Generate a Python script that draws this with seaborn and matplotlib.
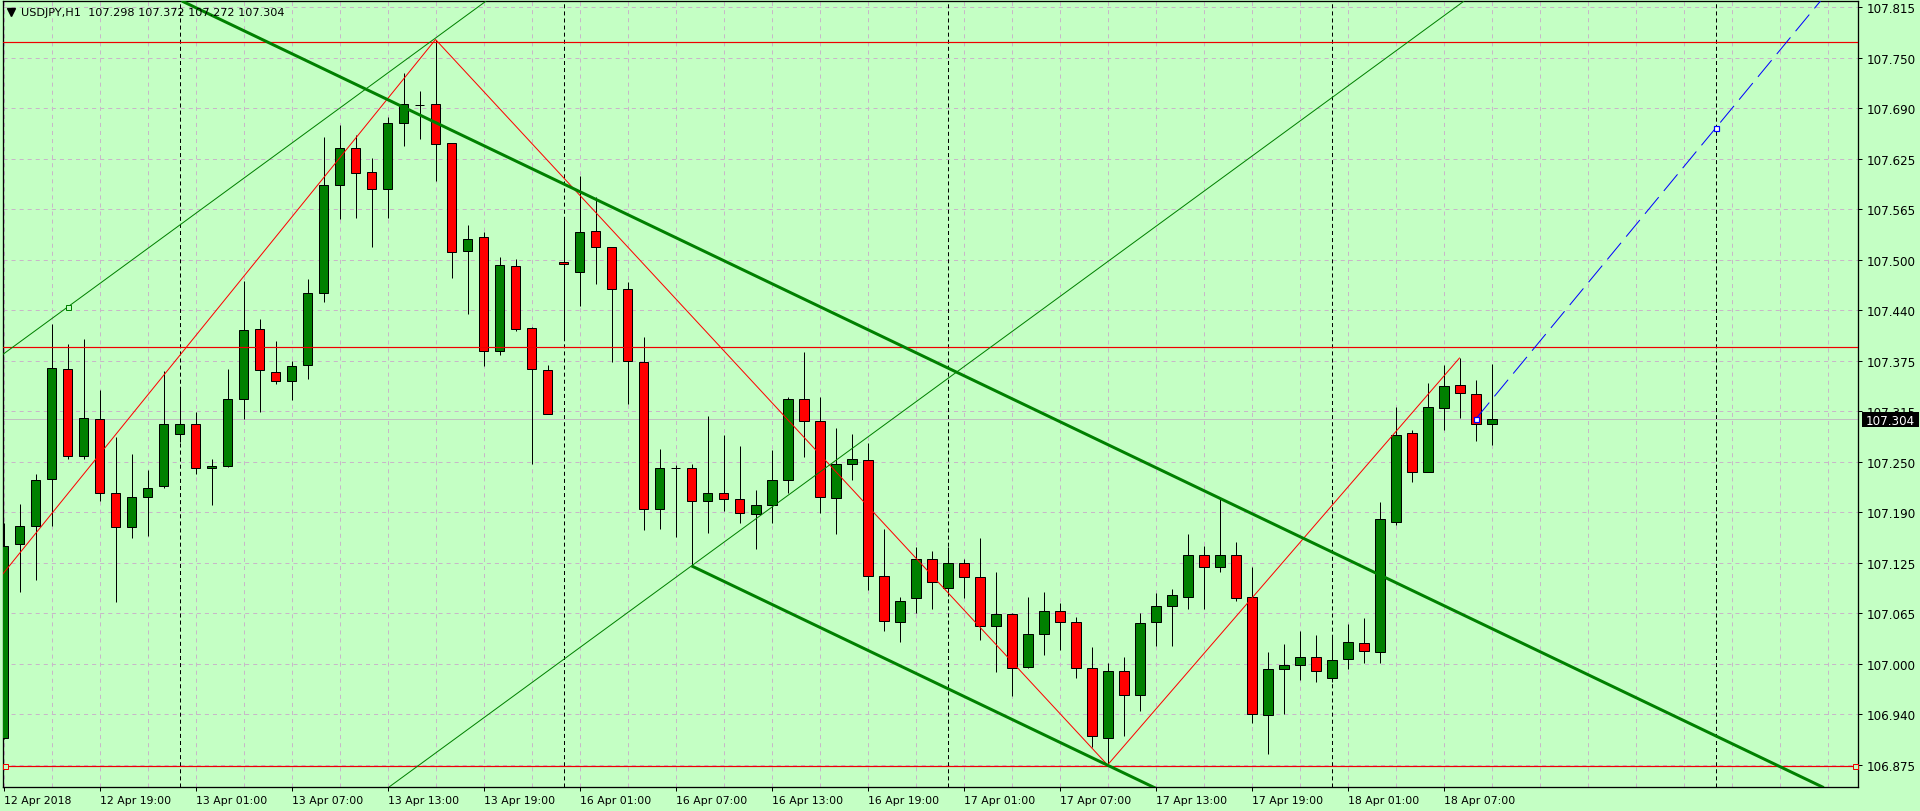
import numpy as np
import matplotlib
matplotlib.use("Agg")
import matplotlib.pyplot as plt
import matplotlib.transforms as mtransforms
from matplotlib.patches import Rectangle
import seaborn as sns

# ------------------------------------------------------------------ data
symbol = "USDJPY,H1"
title_ohlc = ["107.298", "107.372", "107.272", "107.304"]

bar_open = [106.908, 107.149, 107.171, 107.230, 107.366, 107.258, 107.304, 107.212, 107.170, 107.207,
            107.221, 107.285, 107.298, 107.243, 107.246, 107.329, 107.416, 107.363, 107.351, 107.371,
            107.461, 107.595, 107.640, 107.611, 107.589, 107.672, 107.694, 107.695, 107.646, 107.513,
            107.530, 107.389, 107.494, 107.417, 107.365, 107.499, 107.486, 107.537, 107.517, 107.466,
            107.375, 107.192, 107.244, 107.244, 107.203, 107.213, 107.205, 107.186, 107.198, 107.228,
            107.329, 107.302, 107.206, 107.248, 107.253, 107.110, 107.052, 107.082, 107.130, 107.094,
            107.126, 107.108, 107.047, 107.062, 106.997, 107.038, 107.066, 107.052, 106.995, 106.909,
            106.991, 106.962, 107.052, 107.072, 107.083, 107.135, 107.120, 107.136, 107.083, 106.937,
            106.994, 106.999, 107.009, 106.983, 107.006, 107.026, 107.015, 107.177, 107.287, 107.238,
            107.318, 107.346, 107.335, 107.298]
bar_high = [107.175, 107.199, 107.236, 107.422, 107.397, 107.404, 107.340, 107.282, 107.261, 107.241,
            107.364, 107.341, 107.313, 107.254, 107.366, 107.475, 107.428, 107.401, 107.376, 107.478,
            107.654, 107.669, 107.656, 107.628, 107.679, 107.734, 107.711, 107.775, 107.647, 107.545,
            107.536, 107.505, 107.503, 107.418, 107.371, 107.555, 107.606, 107.579, 107.518, 107.474,
            107.406, 107.267, 107.247, 107.248, 107.308, 107.284, 107.271, 107.216, 107.266, 107.332,
            107.387, 107.331, 107.293, 107.286, 107.275, 107.168, 107.084, 107.146, 107.140, 107.145,
            107.131, 107.157, 107.114, 107.063, 107.084, 107.089, 107.076, 107.059, 107.021, 107.002,
            107.009, 107.064, 107.088, 107.093, 107.162, 107.147, 107.206, 107.151, 107.120, 107.015,
            107.025, 107.041, 107.036, 107.035, 107.050, 107.057, 107.201, 107.319, 107.290, 107.349,
            107.371, 107.380, 107.352, 107.372]
bar_low = [106.907, 107.089, 107.104, 107.172, 107.255, 107.255, 107.202, 107.077, 107.157, 107.159,
           107.219, 107.276, 107.236, 107.198, 107.245, 107.304, 107.313, 107.348, 107.328, 107.354,
           107.449, 107.552, 107.554, 107.517, 107.554, 107.643, 107.652, 107.599, 107.479, 107.434,
           107.370, 107.383, 107.413, 107.248, 107.311, 107.403, 107.445, 107.472, 107.375, 107.323,
           107.166, 107.168, 107.158, 107.122, 107.163, 107.190, 107.175, 107.143, 107.175, 107.213,
           107.257, 107.187, 107.161, 107.229, 107.092, 107.041, 107.028, 107.064, 107.068, 107.085,
           107.082, 107.030, 106.990, 106.961, 106.995, 107.012, 107.018, 106.983, 106.897, 106.875,
           106.911, 106.942, 107.022, 107.022, 107.069, 107.069, 107.114, 107.079, 106.927, 106.888,
           106.938, 106.981, 106.978, 106.978, 106.994, 107.001, 107.001, 107.173, 107.226, 107.238,
           107.290, 107.305, 107.277, 107.272]
bar_close = [107.147, 107.172, 107.228, 107.367, 107.258, 107.305, 107.213, 107.170, 107.207, 107.218,
             107.298, 107.298, 107.243, 107.246, 107.329, 107.414, 107.365, 107.351, 107.370, 107.460,
             107.595, 107.641, 107.609, 107.589, 107.672, 107.695, 107.694, 107.645, 107.512, 107.528,
             107.389, 107.495, 107.416, 107.366, 107.311, 107.496, 107.536, 107.517, 107.466, 107.376,
             107.193, 107.244, 107.244, 107.203, 107.212, 107.205, 107.187, 107.198, 107.228, 107.329,
             107.302, 107.207, 107.248, 107.254, 107.109, 107.053, 107.078, 107.131, 107.102, 107.125,
             107.108, 107.047, 107.062, 106.995, 107.038, 107.066, 107.052, 106.995, 106.911, 106.991,
             106.962, 107.051, 107.072, 107.086, 107.135, 107.120, 107.135, 107.082, 106.938, 106.994,
             106.999, 107.009, 106.991, 107.005, 107.027, 107.016, 107.180, 107.284, 107.239, 107.319,
             107.345, 107.336, 107.298, 107.304]

x_tick_bars = [0, 6, 12, 18, 24, 30, 36, 42, 48, 54, 60, 66, 72, 78, 84, 90]
x_tick_labels = ["12 Apr 2018", "12 Apr 19:00", "13 Apr 01:00", "13 Apr 07:00", "13 Apr 13:00",
                 "13 Apr 19:00", "16 Apr 01:00", "16 Apr 07:00", "16 Apr 13:00", "16 Apr 19:00",
                 "17 Apr 01:00", "17 Apr 07:00", "17 Apr 13:00", "17 Apr 19:00", "18 Apr 01:00",
                 "18 Apr 07:00"]
y_tick_labels = ["106.875", "106.940", "107.000", "107.065", "107.125", "107.190", "107.250", "107.315",
                 "107.375", "107.440", "107.500", "107.565", "107.625", "107.690", "107.750", "107.815"]
y_tick_range = [106.875, 107.815]

separator_bars = [11, 35, 59, 83, 107]
hline_prices = [107.772, 107.394, 106.874]
bid_price = 107.304

zigzag_bars = [-2, 27, 69, 91]
zigzag_prices = [107.064, 107.775, 106.875, 107.380]

blue_ray_bars = [92, 107]
blue_ray_prices = [107.304, 107.665]

down_channel_bars = [27, 76]
down_channel_prices = [107.672, 107.206]
down_channel_anchor = [43, 107.122]

up_channel_bars = [43, 80]
up_channel_prices = [107.122, 107.659]
up_channel_anchor = [4, 107.443]

# ------------------------------------------------------------------ style
BG = "#c4ffc4"
GRID = "#c8b6c8"
BULL = "#008000"
BEAR = "#ff0000"
PX = 0.72  # one pixel in points

sns.set_theme(style="white", rc={
    "axes.facecolor": BG, "figure.facecolor": BG, "axes.edgecolor": "black",
    "axes.linewidth": PX, "xtick.color": "black", "ytick.color": "black",
    "text.color": "black", "axes.labelcolor": "black",
})
plt.rcParams["font.family"] = ["DejaVu Sans"]
plt.rcParams["lines.scale_dashes"] = False

W_PX, H_PX = 1920, 812
fig = plt.figure(figsize=(W_PX / 100, H_PX / 100), dpi=100)
left_px, right_px, top_px, bottom_px = 2.7, 1858.0, 2.3, 788.3
ax = fig.add_axes([left_px / W_PX, 1 - bottom_px / H_PX,
                   (right_px - left_px) / W_PX, (bottom_px - top_px) / H_PX])

xmin, xmax = -0.05, 115.9
ymin, ymax = 106.8473, 107.8224
ax.set_xlim(xmin, xmax)
ax.set_ylim(ymin, ymax)

yticks = np.linspace(y_tick_range[0], y_tick_range[1], len(y_tick_labels))

# grid
for gb in np.arange(0, 117, 3):
    ax.axvline(gb, color=GRID, lw=PX, ls=(0, (2.9, 2.9)), zorder=0.5)
for yt in yticks:
    ax.axhline(yt, color=GRID, lw=PX, ls=(0, (2.9, 2.9)), zorder=0.5)

# period separators
for sb in separator_bars:
    ax.axvline(sb, color="black", lw=PX, ls=(0, (2.9, 2.2)), zorder=0.6)

# bid line
ax.axhline(bid_price, color="#c0c0c0", lw=PX, zorder=0.7)

# candles
o = np.array(bar_open); h = np.array(bar_high)
l = np.array(bar_low); c = np.array(bar_close)
idx = np.arange(len(o))
ax.vlines(idx, l, h, color="black", lw=PX, zorder=2)
body_colors = np.where(c > o, BULL, np.where(c < o, BEAR, "black"))
ax.bar(idx, np.abs(c - o), bottom=np.minimum(o, c), width=0.62, color=body_colors,
       edgecolor="black", linewidth=PX, zorder=3)

# horizontal objects
for hp in hline_prices:
    ax.axhline(hp, color="#ee0000", lw=PX * 1.2, zorder=4)
ax.plot([0.12, 115.7], [hline_prices[2], hline_prices[2]], ls="none", marker="s", ms=3.6,
        mfc=BG, mec="#ee0000", mew=PX, zorder=6, clip_on=False)

# zigzag
sns.lineplot(x=zigzag_bars, y=zigzag_prices, ax=ax, color="#ff0000", lw=PX,
             sort=False, estimator=None, zorder=4)

# descending (thick) channel
ax.axline((down_channel_bars[0], down_channel_prices[0]),
          (down_channel_bars[1], down_channel_prices[1]), color=BULL, lw=3 * PX, zorder=5)
slope_d = (down_channel_prices[1] - down_channel_prices[0]) / (down_channel_bars[1] - down_channel_bars[0])
end_bar = 130
ax.plot([down_channel_anchor[0], end_bar],
        [down_channel_anchor[1], down_channel_anchor[1] + slope_d * (end_bar - down_channel_anchor[0])],
        color=BULL, lw=3 * PX, zorder=5, solid_capstyle="butt")

# ascending (thin) channel
ax.axline((up_channel_bars[0], up_channel_prices[0]),
          (up_channel_bars[1], up_channel_prices[1]), color=BULL, lw=PX, zorder=5)
slope_u = (up_channel_prices[1] - up_channel_prices[0]) / (up_channel_bars[1] - up_channel_bars[0])
ax.axline((up_channel_anchor[0], up_channel_anchor[1]), slope=slope_u, color=BULL, lw=PX, zorder=5)
ax.plot([up_channel_anchor[0]], [up_channel_anchor[1]], marker="s", ms=3.6, mfc=BG, mec=BULL,
        mew=PX, zorder=6)

# blue dashed ray
slope_b = (blue_ray_prices[1] - blue_ray_prices[0]) / (blue_ray_bars[1] - blue_ray_bars[0])
ax.plot([blue_ray_bars[0], end_bar],
        [blue_ray_prices[0], blue_ray_prices[0] + slope_b * (end_bar - blue_ray_bars[0])],
        color="#0000ff", lw=PX, ls=(0, (15.5, 5.8)), zorder=5)
ax.plot(blue_ray_bars, blue_ray_prices, ls="none", marker="s", ms=3.6, mfc="white",
        mec="#0000ff", mew=PX * 1.2, zorder=6)

# axes / ticks
for sp in ax.spines.values():
    sp.set_color("black")
    sp.set_linewidth(PX * 1.3)
ax.yaxis.tick_right()
ax.set_yticks(yticks)
ax.set_yticklabels(y_tick_labels)
ax.tick_params(axis="y", which="major", direction="out", length=3, width=PX, pad=3.5,
               labelsize=8.6, right=True, left=False)
ax.set_xticks(x_tick_bars)
ax.set_xticklabels(x_tick_labels, ha="left")
ax.tick_params(axis="x", which="major", direction="out", length=3, width=PX, pad=2.5,
               labelsize=7.8, bottom=True)
ax.set_xlabel("")
ax.set_ylabel("")
ax.grid(False)

# current price label
blend = mtransforms.blended_transform_factory(ax.transAxes, ax.transData)
px_x = 1.0 / (right_px - left_px)
px_y = (ymax - ymin) / (bottom_px - top_px)
ax.add_patch(Rectangle((1.0 + 3.7 * px_x, bid_price - 7.5 * px_y), 57 * px_x, 15 * px_y,
                       transform=blend, facecolor="black", edgecolor="none",
                       clip_on=False, zorder=20))
ax.text(1.0 + 8 * px_x, bid_price, f"{bid_price:.3f}", transform=blend, color="white",
        fontsize=8.6, ha="left", va="center_baseline", clip_on=False, zorder=21)

# title
ax.plot([8.2 * px_x], [1 - 10.5 / (bottom_px - top_px)], transform=ax.transAxes,
        marker="v", ms=5.5, color="black", ls="none", clip_on=False, zorder=20)
ax.text(18.5 * px_x, 1 - 10.5 / (bottom_px - top_px), f"{symbol}  {' '.join(title_ohlc)}",
        transform=ax.transAxes, fontsize=8.1, ha="left", va="center", zorder=20)

fig.savefig("out.png", dpi=100, facecolor=BG)
